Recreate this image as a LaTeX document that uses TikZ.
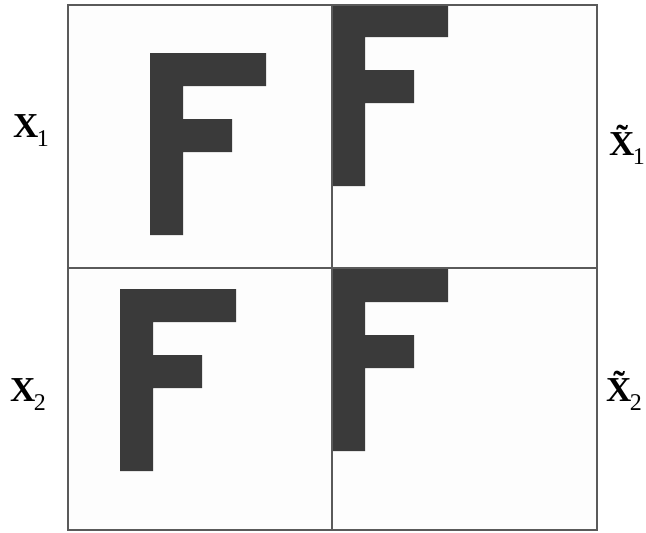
\documentclass[tikz,border=0pt]{standalone}
\usepackage{fontspec}
\setmainfont{Liberation Serif}
\usepackage{tikz}
\definecolor{inkgray}{HTML}{3A3A3A}
\definecolor{rulegray}{HTML}{5A5A5A}
\definecolor{panelbg}{HTML}{FDFDFD}
\newcommand\lowidx[1]{\kern-1.5pt\raisebox{-9pt}{\fontsize{24}{24}\selectfont\mdseries #1}}

\begin{document}
\begin{tikzpicture}[
  x=1pt, y=-1pt,
  panel/.style={fill=panelbg, draw=rulegray, line width=1.4pt},
  glyph/.style={fill=inkgray, draw=none},
  tag/.style={inner sep=0pt, anchor=base west, font=\fontsize{35}{40}\selectfont\bfseries},
  letterf/.pic={
    \fill[glyph] (0,0) -- (116,0) -- (116,33) -- (33,33) -- (33,66) -- (82,66)
      -- (82,99) -- (33,99) -- (33,182) -- (0,182) -- cycle;
  },
]
  \useasboundingbox (0,0) rectangle (646,533);

  % Panels
  \fill[panelbg] (68,5) rectangle (597,530);

  % Letters
  \pic at (150,53) {letterf};
  \pic at (120,289) {letterf};
  \begin{scope}
    \clip (332,5) rectangle (597,530);
    \pic at (332,4) {letterf};
    \pic at (332,269) {letterf};
  \end{scope}

  % Grid lines
  \draw[panel, fill=none] (68,5) rectangle (597,530);
  \draw[rulegray, line width=1.6pt] (68,268) -- (597,268);
  \draw[rulegray, line width=1.6pt] (332,5) -- (332,530);

  % Labels
  \node[tag] (x1) at (13,137) {X\lowidx{1}};
  \node[tag] (x2) at (10,401) {X\lowidx{2}};
  \node[tag] (xt1) at (609,155) {\~{X}\lowidx{1}};
  \node[tag] (xt2) at (606,401) {\~{X}\lowidx{2}};
\end{tikzpicture}
\end{document}
